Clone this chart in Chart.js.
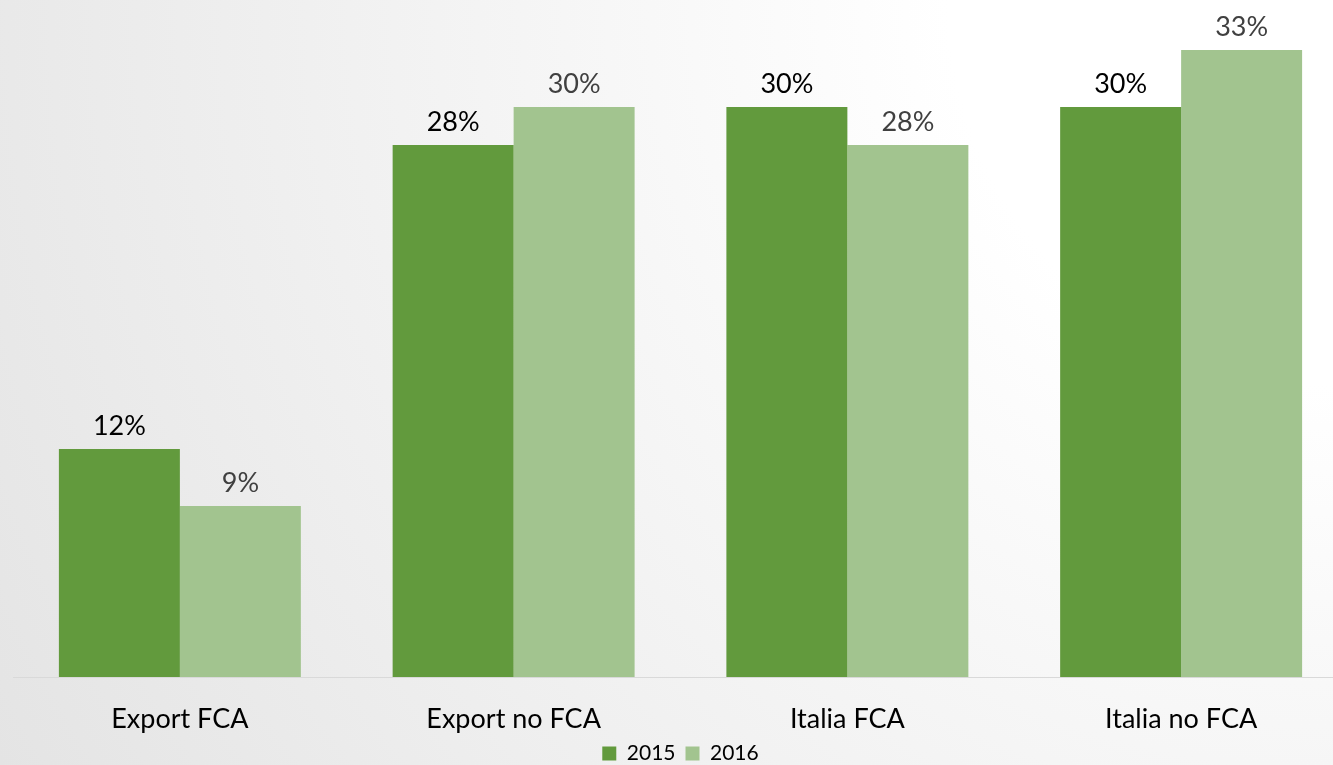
<!DOCTYPE html>
<html>
<head>
<meta charset="utf-8">
<script src="https://cdn.jsdelivr.net/npm/chart.js@4/dist/chart.umd.min.js"></script>
<style>
    html, body {
        margin: 0;
        padding: 0;
        width: 1333px;
        height: 765px;
        overflow: hidden;
        background: radial-gradient(circle farthest-corner at 100% 0%, #ffffff 25%, #e4e4e4 100%);
    }
    #wrap {
        position: absolute;
        left: 0;
        top: 0;
        width: 1348px;
        height: 765px;
    }
</style>
</head>
<body>
<div id="wrap"><canvas id="barChart"></canvas></div>
<script>
// categories and series
const categories = ["Export FCA", "Export no FCA", "Italia FCA", "Italia no FCA"];
const seriesNames = ["2015", "2016"];
const values2015 = [12, 28, 30, 30];
const values2016 = [9, 30, 28, 33];

const darkGreen = "#629A3D";
const lightGreen = "#A2C48F";

// labels over the bars
const valueLabels = {
    id: "valueLabels",
    afterDatasetsDraw(chart) {
        const ctx = chart.ctx;
        ctx.save();
        ctx.font = "27px Lato";
        ctx.textAlign = "center";
        ctx.textBaseline = "middle";
        chart.data.datasets.forEach((ds, i) => {
            const meta = chart.getDatasetMeta(i);
            ctx.fillStyle = i === 0 ? "#000000" : "#404040";
            meta.data.forEach((bar, j) => {
                ctx.fillText(ds.data[j] + "%", bar.x, bar.y - 23);
            });
        });
        ctx.restore();
    }
};

new Chart(document.getElementById("barChart"), {
    type: "bar",
    data: {
        labels: categories,
        datasets: [
            {
                label: seriesNames[0],
                data: values2015,
                backgroundColor: darkGreen
            },
            {
                label: seriesNames[1],
                data: values2016,
                backgroundColor: lightGreen
            }
        ]
    },
    options: {
        responsive: true,
        maintainAspectRatio: false,
        animation: false,
        layout: {
            padding: { top: 12, left: 13, right: 0, bottom: -9 }
        },
        datasets: {
            bar: {
                categoryPercentage: 0.725,
                barPercentage: 1
            }
        },
        plugins: {
            legend: {
                position: "bottom",
                labels: {
                    font: { family: "Lato", size: 21 },
                    color: "#000000",
                    boxWidth: 14,
                    boxHeight: 14,
                    padding: 10
                }
            },
            tooltip: { enabled: false }
        },
        scales: {
            x: {
                grid: { display: false, drawTicks: false },
                border: { display: true, color: "#d9d9d9", width: 1 },
                ticks: {
                    font: { family: "Lato", size: 27 },
                    color: "#000000",
                    padding: 26
                },
                afterFit(scale) {
                    // keep the baseline where the reference has it
                    const legendH = scale.chart.legend ? scale.chart.legend.height : 0;
                    scale.height = Math.max(10, scale.chart.height + 9 - 677 - legendH);
                }
            },
            y: {
                display: false,
                min: 0,
                max: 35
            }
        }
    },
    plugins: [valueLabels]
});
</script>
</body>
</html>
